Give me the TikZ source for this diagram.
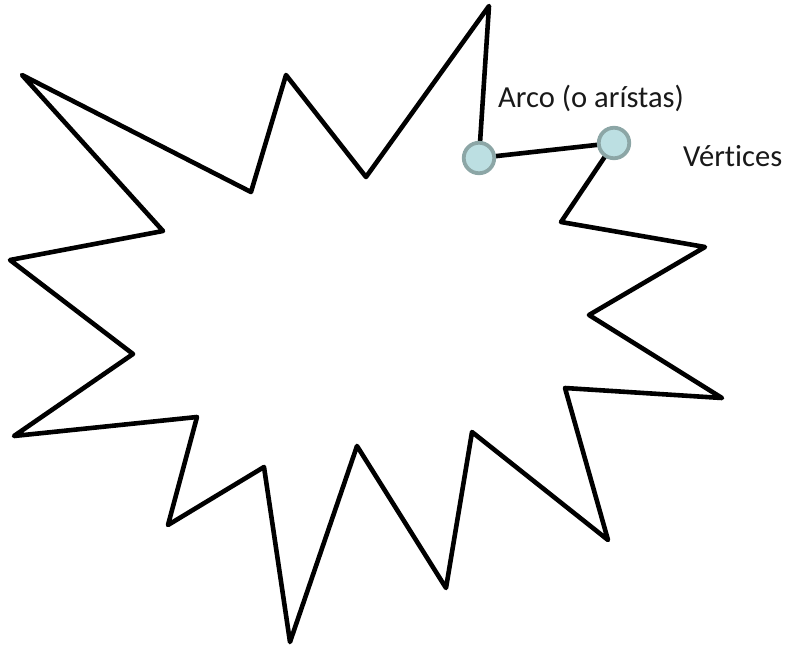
\documentclass[tikz,border=0pt]{standalone}
\usepackage{fontspec}
\setmainfont[Ligatures=NoCommon]{Carlito}
\begin{document}
\begin{tikzpicture}[x=1pt,y=-1pt,
  outline/.style={line width=4.6pt,line join=round,black},
  vertex/.style={circle,minimum size=30.5pt,inner sep=0pt,draw=vborder,fill=vfill,line width=3.8pt},
  lbl/.style={inner sep=0pt,anchor=base west,font=\fontsize{30.6}{36}\selectfont,text=black!90}]
\definecolor{vfill}{HTML}{BCDFE2}
\definecolor{vborder}{HTML}{8CA6A6}
\useasboundingbox (0,0) rectangle (787,646);
\coordinate (T) at (489,6);
\coordinate (V1) at (479,158);
\coordinate (V2) at (614,143);
\draw[outline] (V2) -- (561,222) -- (705,247) -- (589,315) -- (722,398) -- (565,388)
  -- (608,540) -- (472,432) -- (446,588) -- (357,446) -- (290,642) -- (264,467)
  -- (168,525) -- (197,417) -- (14,436) -- (133,354) -- (10,260) -- (163,231)
  -- (22,75) -- (251,192) -- (286,75) -- (366,177) -- (T) -- (V1) -- cycle;
\node[vertex] (v1) at (V1) {};
\node[vertex] (v2) at (V2) {};
\node[lbl] (arco) at (498,107) {Arco (o arístas)};
\node[lbl] (vert) at (683,166) {Vértices};
\end{tikzpicture}
\end{document}
